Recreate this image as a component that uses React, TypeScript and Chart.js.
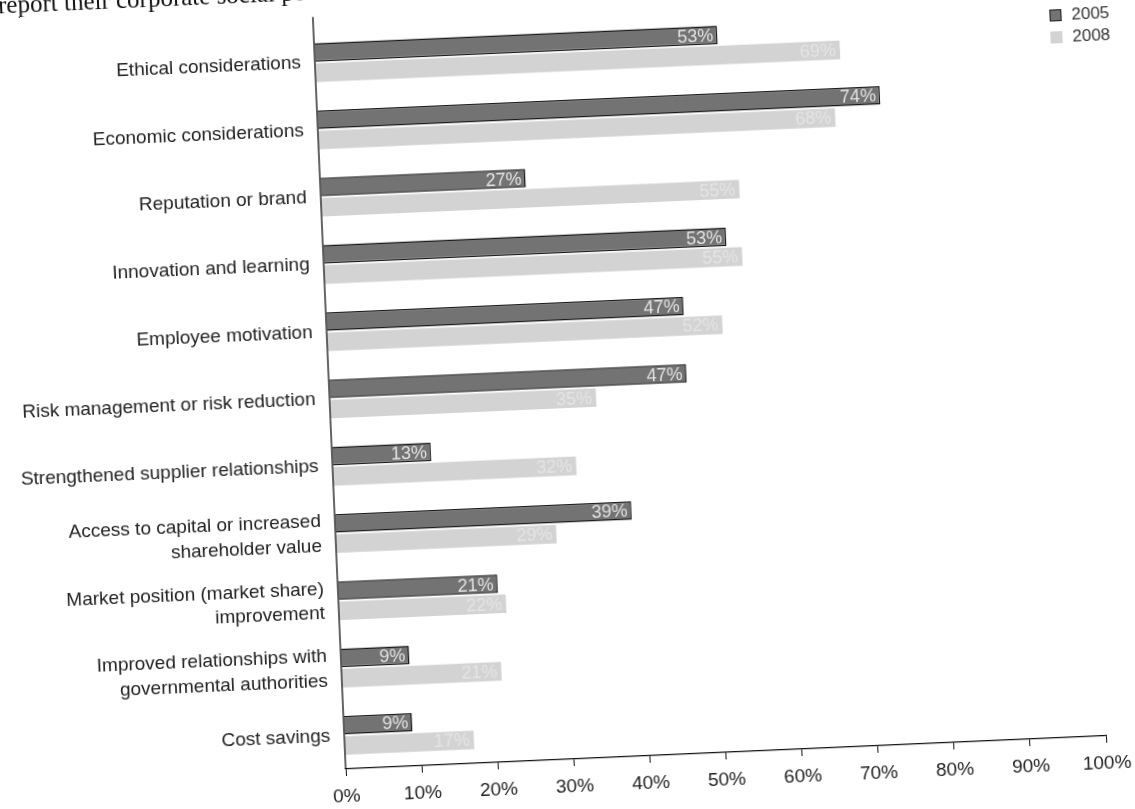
import React, { useEffect, useRef } from "react";
import { Chart, registerables } from "chart.js";

Chart.register(...registerables);

const categories: (string | string[])[] = [
  "Ethical considerations",
  "Economic considerations",
  "Reputation or brand",
  "Innovation and learning",
  "Employee motivation",
  "Risk management or risk reduction",
  "Strengthened supplier relationships",
  ["Access to capital or increased", "shareholder value"],
  ["Market position (market share)", "improvement"],
  ["Improved relationships with", "governmental authorities"],
  "Cost savings",
];

const seriesNames = ["2005", "2008"];
const values2005 = [53, 74, 27, 53, 47, 47, 13, 39, 21, 9, 9];
const values2008 = [69, 68, 55, 55, 52, 35, 32, 29, 22, 21, 17];
const xTickValues = [0, 10, 20, 30, 40, 50, 60, 70, 80, 90, 100];

const W = 1135;
const H = 809;
const FONT = "'Liberation Sans', Arial, Helvetica, sans-serif";
const DARK = "#737373";
const LIGHT = "#d3d3d3";

const yAxisLinePlugin = {
  id: "yAxisLine",
  afterDraw(chart: any) {
    const { ctx, chartArea } = chart;
    ctx.save();
    ctx.strokeStyle = "#111";
    ctx.lineWidth = 1.3;
    ctx.beginPath();
    ctx.moveTo(chartArea.left, chartArea.top - 12);
    ctx.lineTo(chartArea.left, chartArea.bottom);
    ctx.stroke();
    ctx.restore();
  },
};

const barLabelPlugin = {
  id: "barLabels",
  afterDatasetsDraw(chart: any) {
    const { ctx } = chart;
    ctx.save();
    ctx.font = `18px ${FONT}`;
    ctx.textAlign = "right";
    ctx.textBaseline = "middle";
    chart.data.datasets.forEach((ds: any, di: number) => {
      const meta = chart.getDatasetMeta(di);
      ctx.fillStyle = di === 0 ? "#e2e2e2" : "#e4e4e4";
      meta.data.forEach((el: any, i: number) => {
        ctx.fillText(`${ds.data[i]}%`, el.x - 4, el.y + 1);
      });
    });
    ctx.restore();
  },
};

export default function App() {
  const canvasRef = useRef<HTMLCanvasElement | null>(null);

  useEffect(() => {
    if (!canvasRef.current) return;
    const chart = new Chart(canvasRef.current, {
      type: "bar",
      data: {
        labels: categories as any,
        datasets: [
          {
            label: seriesNames[0],
            data: values2005,
            backgroundColor: DARK,
            borderColor: "#1a1a1a",
            borderWidth: 1.5,
            borderSkipped: "start",
            categoryPercentage: 0.6,
            barPercentage: 0.92,
          },
          {
            label: seriesNames[1],
            data: values2008,
            backgroundColor: LIGHT,
            borderWidth: 0,
            categoryPercentage: 0.6,
            barPercentage: 0.92,
          },
        ],
      },
      options: {
        indexAxis: "y",
        animation: false,
        responsive: false,
        events: [],
        layout: { padding: { top: 5, right: 44, bottom: 0, left: 0 } },
        plugins: {
          legend: { display: false },
          tooltip: { enabled: false },
        },
        scales: {
          x: {
            type: "linear",
            min: 0,
            max: 100,
            afterBuildTicks: (s: any) => {
              s.ticks = xTickValues.map((v) => ({ value: v }));
            },
            ticks: {
              callback: (v: any) => `${v}%`,
              color: "#222",
              font: { family: FONT, size: 19 },
              padding: 9,
              maxRotation: 0,
              autoSkip: false,
            },
            grid: {
              drawOnChartArea: false,
              drawTicks: true,
              tickLength: 7,
              color: "#111",
            },
            border: { display: true, color: "#111", width: 1.3 },
            afterFit: (s: any) => {
              s.height = 50;
            },
          },
          y: {
            ticks: {
              color: "#222",
              font: { family: FONT, size: 19, lineHeight: 1.3 },
              padding: 6,
              autoSkip: false,
            },
            grid: { display: false },
            border: { display: false },
            afterFit: (s: any) => {
              s.width = 330;
            },
          },
        },
      } as any,
      plugins: [yAxisLinePlugin, barLabelPlugin],
    });
    return () => chart.destroy();
  }, []);

  const legendItem = (name: string, color: string, border: string, top: number) => (
    <div
      key={name}
      style={{
        position: "absolute",
        left: 1066,
        top,
        display: "flex",
        alignItems: "center",
        fontFamily: FONT,
        fontSize: 17,
        color: "#333",
        lineHeight: "20px",
      }}
    >
      <span
        style={{
          display: "inline-block",
          width: 12,
          height: 12,
          background: color,
          border: border,
          boxSizing: "border-box",
          marginRight: 10,
        }}
      />
      <span>{name}</span>
    </div>
  );

  return (
    <div
      style={{
        position: "fixed",
        left: 0,
        top: 0,
        width: W,
        height: H,
        transform: "rotate(-2.5deg)",
        transformOrigin: "50% 50%",
        background: "transparent",
      }}
    >
      <div
        style={{
          position: "absolute",
          left: 16,
          top: -32,
          fontFamily: "'Liberation Serif', 'Times New Roman', serif",
          fontSize: 25,
          lineHeight: "25px",
          color: "#111",
          whiteSpace: "nowrap",
        }}
      >
        report their corporate social performance
      </div>
      <canvas ref={canvasRef} width={W} height={H} style={{ display: "block" }} />
      {legendItem(seriesNames[0], DARK, "1px solid #1a1a1a", 27)}
      {legendItem(seriesNames[1], LIGHT, "none", 49)}
    </div>
  );
}
